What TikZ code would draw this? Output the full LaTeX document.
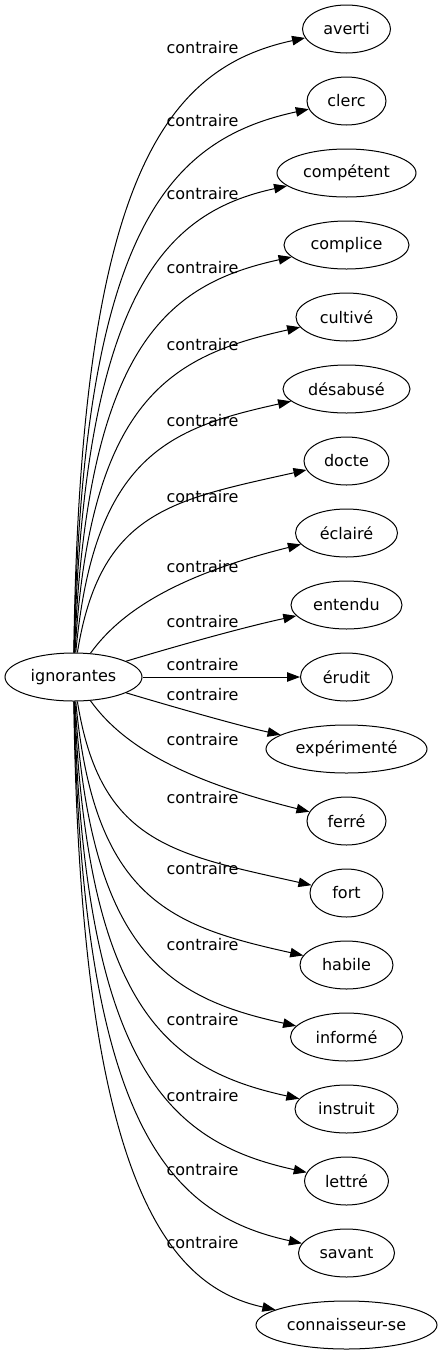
\documentclass[tikz,border=0pt]{standalone}
\usepackage{fontspec}
\setmainfont{DejaVu Sans}
\usetikzlibrary{arrows.meta,shapes.geometric}

\begin{document}
\begin{tikzpicture}[
  x=1pt, y=-1pt,
  font=\fontsize{16pt}{19pt}\selectfont, >={Triangle[length=13pt,width=9.5pt]},
  word/.style={draw, ellipse, inner sep=0pt, minimum height=48pt, line width=1pt},
  rel/.style={->, line width=1pt},
  lbl/.style={inner sep=0pt},
]
\useasboundingbox (0,0) rectangle (443,1355);
% source word
\node[word, minimum width=137pt] (ign) at (73.5,677) {ignorantes};
% opposites, top to bottom
\node[word, minimum width=88pt] (averti) at (346.5,29) {averti};
\node[word, minimum width=79pt] (clerc) at (346.5,101) {clerc};
\node[word, minimum width=139pt] (competent) at (346.5,173) {compétent};
\node[word, minimum width=125pt] (complice) at (346.5,245) {complice};
\node[word, minimum width=101pt] (cultive) at (346.5,317) {cultivé};
\node[word, minimum width=127pt] (desabuse) at (346.5,389) {désabusé};
\node[word, minimum width=85pt] (docte) at (346.5,461) {docte};
\node[word, minimum width=102pt] (eclaire) at (346.5,533) {éclairé};
\node[word, minimum width=111pt] (entendu) at (346.5,605) {entendu};
\node[word, minimum width=92pt] (erudit) at (346.5,677) {érudit};
\node[word, minimum width=161pt] (experimente) at (346.5,749) {expérimenté};
\node[word, minimum width=79pt] (ferre) at (346.5,821) {ferré};
\node[word, minimum width=73pt] (fort) at (346.5,893) {fort};
\node[word, minimum width=93pt] (habile) at (346.5,965) {habile};
\node[word, minimum width=112pt] (informe) at (346.5,1037) {informé};
\node[word, minimum width=103pt] (instruit) at (346.5,1109) {instruit};
\node[word, minimum width=84pt] (lettre) at (346.5,1181) {lettré};
\node[word, minimum width=96pt] (savant) at (346.5,1253) {savant};
\node[word, minimum width=181pt] (connaisseur) at (346.5,1325) {connaisseur-se};

% edges going up
\draw[rel] (ign) .. controls (80,178) and (165,68) .. (averti) node[lbl] at (202.5,48) {contraire};
\draw[rel] (ign) .. controls (82,233) and (166,140) .. (clerc) node[lbl] at (202.5,121) {contraire};
\draw[rel] (ign) .. controls (84,289) and (167,212) .. (competent) node[lbl] at (202.5,194) {contraire};
\draw[rel] (ign) .. controls (87,344) and (168,284) .. (complice) node[lbl] at (202.5,268) {contraire};
\draw[rel] (ign) .. controls (90,400) and (169,356) .. (cultive) node[lbl] at (202.5,345) {contraire};
\draw[rel] (ign) .. controls (94,455) and (170,428) .. (desabuse) node[lbl] at (202.5,421) {contraire};
\draw[rel] (ign) .. controls (100,511) and (172,500) .. (docte) node[lbl] at (202.5,497) {contraire};
\draw[rel] (ign) .. controls (125,605) and (190,572) .. (eclaire) node[lbl] at (202.5,567) {contraire};
\draw[rel] (ign) .. controls (170,648) and (240,628) .. (entendu) node[lbl] at (202.5,622) {contraire};
% straight across
\draw[rel] (ign) -- (erudit) node[lbl] at (202.5,665) {contraire};
% edges going down
\draw[rel] (ign) .. controls (170,706) and (240,726) .. (experimente) node[lbl] at (202.5,695) {contraire};
\draw[rel] (ign) .. controls (125,749) and (190,782) .. (ferre) node[lbl] at (202.5,740) {contraire};
\draw[rel] (ign) .. controls (100,843) and (172,854) .. (fort) node[lbl] at (202.5,798) {contraire};
\draw[rel] (ign) .. controls (94,899) and (170,926) .. (habile) node[lbl] at (202.5,869) {contraire};
\draw[rel] (ign) .. controls (90,954) and (169,998) .. (informe) node[lbl] at (202.5,945) {contraire};
\draw[rel] (ign) .. controls (87,1010) and (168,1070) .. (instruit) node[lbl] at (202.5,1020) {contraire};
\draw[rel] (ign) .. controls (84,1065) and (167,1142) .. (lettre) node[lbl] at (202.5,1096) {contraire};
\draw[rel] (ign) .. controls (82,1121) and (166,1214) .. (savant) node[lbl] at (202.5,1170) {contraire};
\draw[rel] (ign) .. controls (80,1176) and (165,1286) .. (connaisseur) node[lbl] at (202.5,1243) {contraire};
\end{tikzpicture}
\end{document}
